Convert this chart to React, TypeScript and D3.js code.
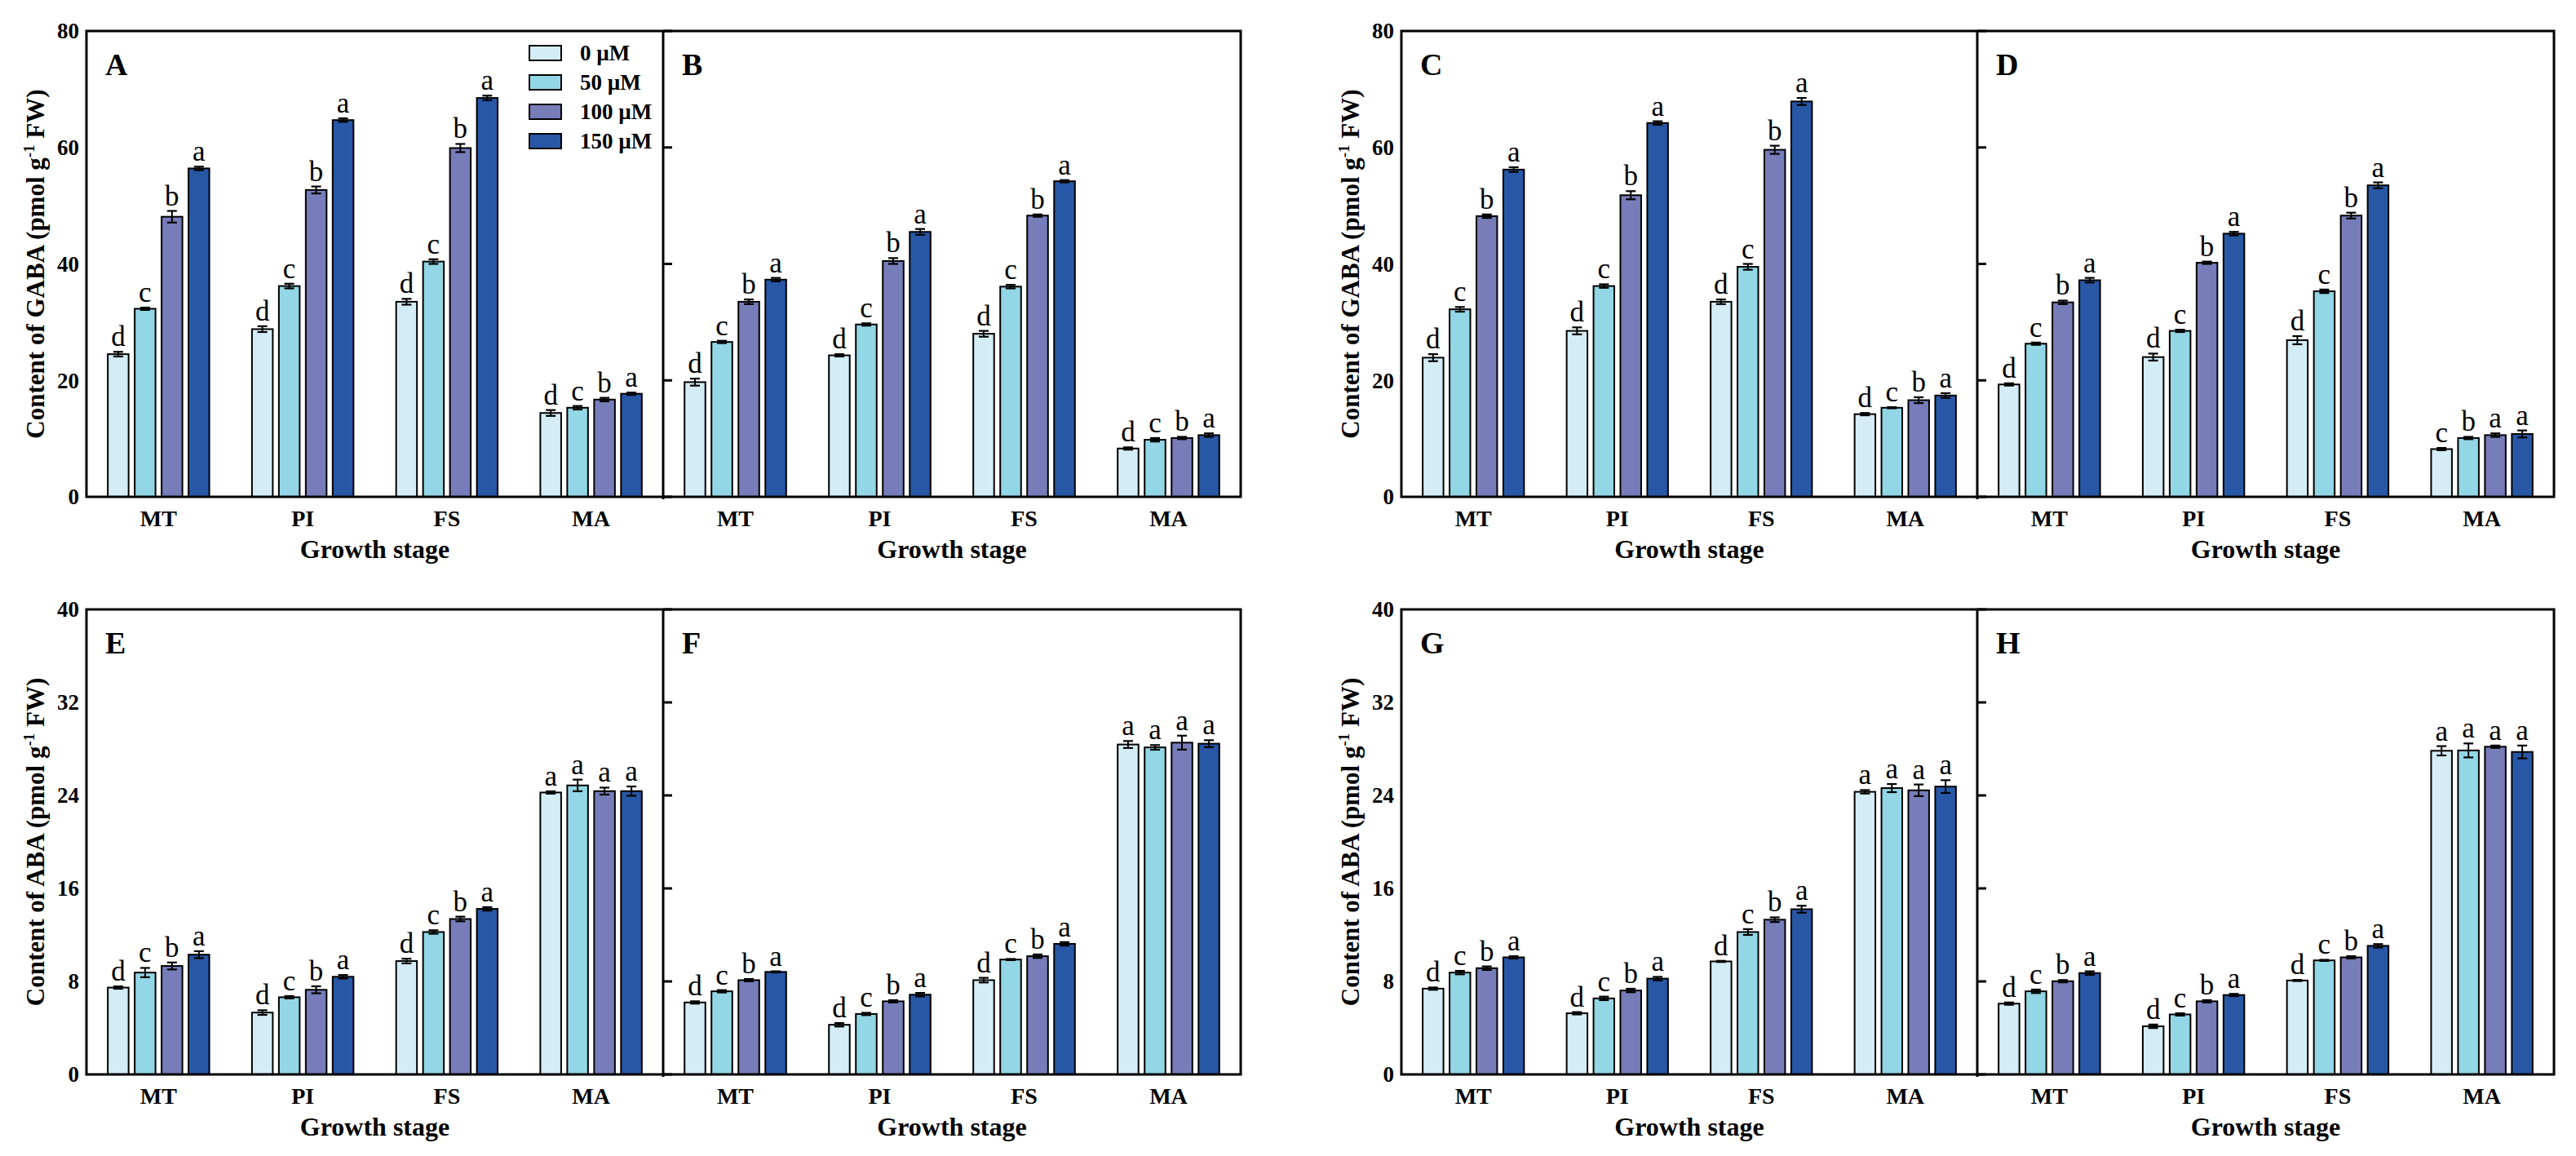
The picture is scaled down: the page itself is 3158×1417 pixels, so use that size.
import React from "react";
import * as d3 from "d3";

const stages = ["MT", "PI", "FS", "MA"];
const doses = ["0 µM", "50 µM", "100 µM", "150 µM"];
const doseColors = ["#d4ecf5", "#93d6e5", "#767db9", "#2857a5"];

const gabaTicks = [0, 20, 40, 60, 80];
const abaTicks = [0, 8, 16, 24, 32, 40];

// values indexed [stage][dose]
const gabaA = [[24.5, 32.3, 48.1, 56.4], [28.8, 36.2, 52.7, 64.7], [33.5, 40.4, 59.9, 68.5], [14.4, 15.3, 16.7, 17.7]];
const gabaAErr = [[0.4, 0.2, 1.0, 0.3], [0.5, 0.4, 0.6, 0.3], [0.5, 0.4, 0.7, 0.4], [0.5, 0.3, 0.3, 0.2]];
const gabaB = [[19.7, 26.6, 33.5, 37.3], [24.3, 29.6, 40.5, 45.5], [28.0, 36.1, 48.3, 54.2], [8.3, 9.8, 10.1, 10.6]];
const gabaBErr = [[0.6, 0.2, 0.4, 0.3], [0.2, 0.2, 0.5, 0.5], [0.5, 0.3, 0.2, 0.2], [0.2, 0.3, 0.2, 0.3]];
const gabaC = [[23.9, 32.2, 48.2, 56.2], [28.5, 36.2, 51.8, 64.2], [33.5, 39.5, 59.6, 67.9], [14.2, 15.3, 16.6, 17.4]];
const gabaCErr = [[0.6, 0.4, 0.3, 0.4], [0.6, 0.3, 0.7, 0.3], [0.4, 0.5, 0.7, 0.6], [0.2, 0.1, 0.5, 0.4]];
const gabaD = [[19.3, 26.3, 33.4, 37.2], [24.0, 28.5, 40.2, 45.2], [26.9, 35.3, 48.3, 53.5], [8.2, 10.1, 10.6, 10.8]];
const gabaDErr = [[0.2, 0.2, 0.3, 0.4], [0.6, 0.2, 0.2, 0.3], [0.7, 0.3, 0.5, 0.5], [0.2, 0.2, 0.3, 0.6]];

const abaE = [[7.47, 8.76, 9.33, 10.3], [5.32, 6.64, 7.28, 8.4], [9.75, 12.25, 13.37, 14.24], [24.25, 24.86, 24.37, 24.37]];
const abaEErr = [[0.1, 0.4, 0.3, 0.3], [0.2, 0.1, 0.3, 0.15], [0.2, 0.15, 0.2, 0.15], [0.1, 0.5, 0.3, 0.4]];
const abaF = [[6.19, 7.15, 8.11, 8.82], [4.27, 5.2, 6.29, 6.86], [8.11, 9.88, 10.17, 11.23], [28.38, 28.13, 28.54, 28.45]];
const abaFErr = [[0.1, 0.1, 0.1, 0.05], [0.15, 0.1, 0.1, 0.15], [0.2, 0.05, 0.15, 0.15], [0.3, 0.2, 0.6, 0.3]];
const abaG = [[7.38, 8.76, 9.14, 10.07], [5.26, 6.54, 7.22, 8.24], [9.72, 12.25, 13.31, 14.21], [24.31, 24.63, 24.44, 24.76]];
const abaGErr = [[0.1, 0.15, 0.15, 0.1], [0.1, 0.15, 0.15, 0.15], [0.05, 0.25, 0.2, 0.3], [0.15, 0.35, 0.5, 0.55]];
const abaH = [[6.09, 7.15, 8.02, 8.72], [4.14, 5.16, 6.29, 6.83], [8.08, 9.81, 10.07, 11.06], [27.84, 27.87, 28.19, 27.74]];
const abaHErr = [[0.1, 0.15, 0.1, 0.15], [0.15, 0.1, 0.1, 0.1], [0.05, 0.05, 0.1, 0.15], [0.4, 0.6, 0.1, 0.55]];

const lettersStd = [["d", "c", "b", "a"], ["d", "c", "b", "a"], ["d", "c", "b", "a"], ["d", "c", "b", "a"]];
const lettersD = [["d", "c", "b", "a"], ["d", "c", "b", "a"], ["d", "c", "b", "a"], ["c", "b", "a", "a"]];
const lettersABA = [["d", "c", "b", "a"], ["d", "c", "b", "a"], ["d", "c", "b", "a"], ["a", "a", "a", "a"]];

const FONT = "'Liberation Serif', 'Times New Roman', serif";

type PanelDef = {
  id: string;
  values: number[][];
  errs: number[][];
  letters: string[][];
  pair: number;
  side: number;
  row: number;
};

const panels: PanelDef[] = [
  { id: "A", values: gabaA, errs: gabaAErr, letters: lettersStd, pair: 0, side: 0, row: 0 },
  { id: "B", values: gabaB, errs: gabaBErr, letters: lettersStd, pair: 0, side: 1, row: 0 },
  { id: "C", values: gabaC, errs: gabaCErr, letters: lettersStd, pair: 1, side: 0, row: 0 },
  { id: "D", values: gabaD, errs: gabaDErr, letters: lettersD, pair: 1, side: 1, row: 0 },
  { id: "E", values: abaE, errs: abaEErr, letters: lettersABA, pair: 0, side: 0, row: 1 },
  { id: "F", values: abaF, errs: abaFErr, letters: lettersABA, pair: 0, side: 1, row: 1 },
  { id: "G", values: abaG, errs: abaGErr, letters: lettersABA, pair: 1, side: 0, row: 1 },
  { id: "H", values: abaH, errs: abaHErr, letters: lettersABA, pair: 1, side: 1, row: 1 },
];

const pairX = [[106, 813, 1521], [1718, 2424, 3131]];
const rowY = [[38, 609], [747, 1317]];
const rowTicks = [gabaTicks, abaTicks];
const rowTitle = ["GABA", "ABA"];

function Panel({ p }: { p: PanelDef }) {
  const x0 = pairX[p.pair][p.side];
  const x1 = pairX[p.pair][p.side + 1];
  const [top, bottom] = rowY[p.row];
  const ticks = rowTicks[p.row];
  const y = d3.scaleLinear().domain([0, ticks[ticks.length - 1]]).range([bottom, top]);
  const xg = d3.scaleBand<string>().domain(stages).range([x0, x1]).padding(0);
  const band = xg.bandwidth();
  const inner = band * 0.704;
  const xs = d3.scaleBand<string>().domain(doses).range([0, inner]).paddingInner(0.227).paddingOuter(0);
  const off = (band - inner) / 2;
  const bw = xs.bandwidth();

  return (
    <g>
      {stages.map((s, si) => (
        <g key={s}>
          {doses.map((d, di) => {
            const v = p.values[si][di];
            const e = p.errs[si][di];
            const bx = (xg(s) as number) + off + (xs(d) as number);
            const cx = bx + bw / 2;
            const yt = y(v + e);
            const yb = y(v - e);
            return (
              <g key={d}>
                <rect x={bx} y={y(v)} width={bw} height={bottom - y(v)} fill={doseColors[di]} stroke="#000" strokeWidth={2} />
                <line x1={cx} x2={cx} y1={yt} y2={yb} stroke="#000" strokeWidth={2} />
                <line x1={cx - 6} x2={cx + 6} y1={yt} y2={yt} stroke="#000" strokeWidth={2.2} />
                <line x1={cx - 6} x2={cx + 6} y1={yb} y2={yb} stroke="#000" strokeWidth={2.2} />
                <text x={cx} y={yt - 7} textAnchor="middle" fontSize={35} fontFamily={FONT} fill="#000">
                  {p.letters[si][di]}
                </text>
              </g>
            );
          })}
          <text x={(xg(s) as number) + band / 2} y={bottom + 36} textAnchor="middle" fontSize={28} fontWeight="bold" fontFamily={FONT}>
            {s}
          </text>
        </g>
      ))}
      <text x={(x0 + x1) / 2} y={bottom + 75} textAnchor="middle" fontSize={32} fontWeight="bold" fontFamily={FONT}>
        Growth stage
      </text>
      <text x={x0 + 23} y={top + 54} fontSize={38} fontWeight="bold" fontFamily={FONT}>
        {p.id}
      </text>
      {p.side === 0 ? (
        <g>
          {ticks.map((t) => (
            <text key={t} x={x0 - 9} y={y(t)} dy="0.35em" textAnchor="end" fontSize={27} fontWeight="bold" fontFamily={FONT}>
              {t}
            </text>
          ))}
          <text
            transform={`translate(${x0 - 52},${(top + bottom) / 2}) rotate(-90)`}
            textAnchor="middle"
            fontSize={31}
            fontWeight="bold"
            fontFamily={FONT}
          >
            {`Content of ${rowTitle[p.row]} (pmol g`}
            <tspan dy={-12} fontSize={19}>-1</tspan>
            <tspan dy={12}> FW)</tspan>
          </text>
        </g>
      ) : (
        <g>
          {ticks.map((t) => (
            <line key={t} x1={x0} x2={x0 + 11} y1={y(t)} y2={y(t)} stroke="#000" strokeWidth={3} />
          ))}
        </g>
      )}
    </g>
  );
}

function Frame({ pair, row }: { pair: number; row: number }) {
  const [a, m, b] = pairX[pair];
  const [top, bottom] = rowY[row];
  return (
    <g>
      <rect x={a} y={top} width={b - a} height={bottom - top} fill="none" stroke="#000" strokeWidth={3} />
      <line x1={m} x2={m} y1={top} y2={bottom + 3} stroke="#000" strokeWidth={3} />
    </g>
  );
}

function Legend() {
  const xRight = pairX[0][1];
  const top = rowY[0][0];
  return (
    <g>
      {doses.map((d, i) => (
        <g key={d}>
          <rect x={xRight - 164} y={top + 18 + i * 36} width={39} height={18} fill={doseColors[i]} stroke="#000" strokeWidth={2} />
          <text x={xRight - 102} y={top + 27 + i * 36} dy="0.35em" fontSize={27} fontWeight="bold" fontFamily={FONT}>
            {d}
          </text>
        </g>
      ))}
    </g>
  );
}

export default function App() {
  return (
    <svg
      width={3158}
      height={1417}
      viewBox="0 0 3158 1417"
      style={{ position: "absolute", left: 0, top: 0, background: "#fff" }}
    >
      <rect x={0} y={0} width={3158} height={1417} fill="#fff" />
      {panels.map((p) => (
        <Panel key={p.id} p={p} />
      ))}
      {[0, 1].map((pair) => [0, 1].map((row) => <Frame key={`${pair}-${row}`} pair={pair} row={row} />))}
      <Legend />
    </svg>
  );
}
